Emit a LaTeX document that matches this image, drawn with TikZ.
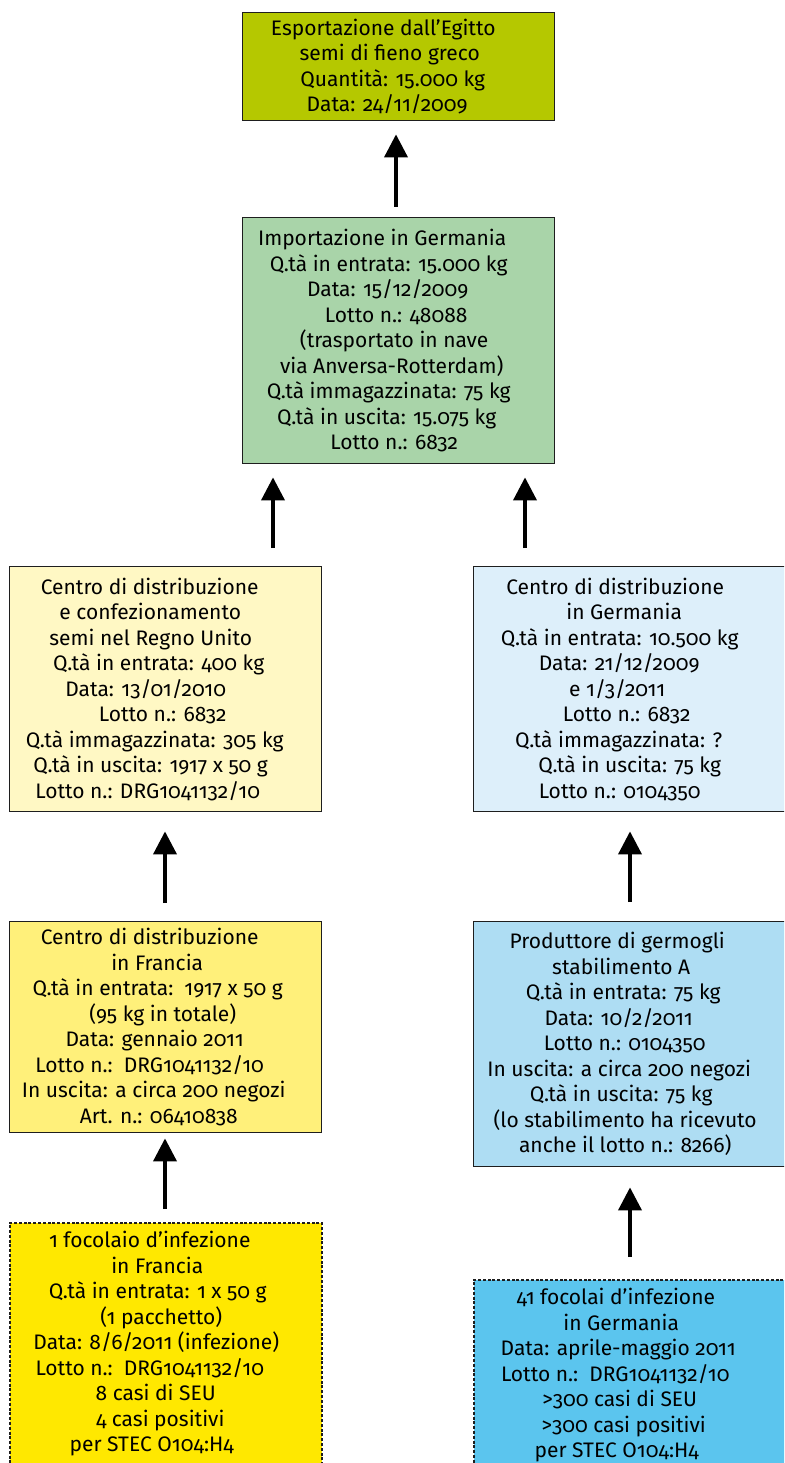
\documentclass[tikz,border=0pt]{standalone}
\usepackage{fontspec}
\setmainfont{Fira Sans}[Numbers=OldStyle]
\usetikzlibrary{arrows.meta}
\definecolor{cEgy}{RGB}{181,200,0}
\definecolor{cImp}{RGB}{169,212,169}
\definecolor{cUK}{RGB}{255,248,196}
\definecolor{cDEd}{RGB}{221,239,250}
\definecolor{cFR}{RGB}{255,240,122}
\definecolor{cProd}{RGB}{174,221,243}
\definecolor{cOutFR}{RGB}{255,232,0}
\definecolor{cOutDE}{RGB}{91,197,238}
\definecolor{cEdge}{RGB}{30,30,30}
\newcommand\Sh[1]{\hspace*{#1pt}\mbox{}}
\tikzset{
  boxbase/.style={anchor=north west, minimum width=312pt, inner sep=0pt, align=center,
    font=\fontsize{21}{25.5}\selectfont},
  solidbox/.style={boxbase, draw=cEdge, line width=1.4pt},
  dashbox/.style={boxbase, draw=cEdge, line width=1.5pt, dash pattern=on 3pt off 1.8pt},
  txt/.style={inner sep=0pt, align=center, font=\fontsize{21}{25.5}\selectfont},
  arr/.style={line width=3.8pt, -{Triangle[width=23pt,length=23pt]}},
}
\begin{document}
\begin{tikzpicture}[x=1pt,y=-1pt]
\useasboundingbox (0,0) rectangle (784,1463);
\clip (0,0) rectangle (784,1463);
\fill[white] (0,0) rectangle (784,1463);

% row 1
\node[solidbox, fill=cEgy, minimum height=108pt] (egy) at (242,12)
 {Esportazione dall’Egitto\Sh{31}\\
  semi di fieno greco\Sh{18}\\
  Quantità: 15.000 kg\Sh{12}\\
  Data: 24/11/2009\Sh{23}};

% row 2
\node[solidbox, fill=cImp, minimum height=246pt] (imp) at (242,217)
 {Importazione in Germania\Sh{33}\\
  Q.tà in entrata: 15.000 kg\Sh{20}\\
  Data: 15/12/2009\Sh{22}\\
  Lotto n.: 48088\Sh{5}\\
  (trasportato in nave\Sh{9}\\
  via Anversa-Rotterdam)\Sh{14}\\
  Q.tà immagazzinata: 75 kg\Sh{20}\\
  Q.tà in uscita: 15.075 kg\Sh{24}\\
  Lotto n.: 6832\Sh{9}};

% row 3
\node[solidbox, fill=cUK, minimum height=245pt] (uk) at (9,566)
 {Centro di distribuzione\Sh{32}\\
  e confezionamento\Sh{31}\\
  semi nel Regno Unito\Sh{30}\\
  Q.tà in entrata: 400 kg\Sh{14}\\
  Data: 13/01/2010\Sh{40}\\
  Lotto n.: 6832\Sh{6}\\
  Q.tà immagazzinata: 305 kg\Sh{22}\\
  Q.tà in uscita: 1917 x 50 g\Sh{30}\\
  Lotto n.: DRG1041132/10\Sh{36}};

\node[solidbox, fill=cDEd, minimum height=245pt] (ded) at (473,566)
 {Centro di distribuzione\Sh{29}\\
  in Germania\Sh{11}\\
  Q.tà in entrata: 10.500 kg\Sh{20}\\
  Data: 21/12/2009\Sh{21}\\
  e 1/3/2011\Sh{25}\\
  Lotto n.: 6832\Sh{6}\\
  Q.tà immagazzinata: ?\Sh{22}\\
  Q.tà in uscita: 75 kg\Sh{0}\\
  Lotto n.: 0104350\Sh{20}};

% row 4
\node[solidbox, fill=cFR, minimum height=211pt] (fr) at (9,921)
 {Centro di distribuzione\Sh{32}\\
  in Francia\Sh{17}\\
  Q.tà in entrata:\ \ 1917 x 50 g\Sh{16}\\
  (95 kg in totale)\Sh{6}\\
  Data: gennaio 2011\Sh{22}\\
  Lotto n.:\ \ DRG1041132/10\Sh{32}\\
  In uscita: a circa 200 negozi\Sh{24}\\
  Art. n.: 06410838\Sh{14}};

\node[solidbox, fill=cProd, minimum height=245pt] (prod) at (473,921)
 {Produttore di germogli\Sh{25}\\
  stabilimento A\Sh{17}\\
  Q.tà in entrata: 75 kg\Sh{13}\\
  Data: 10/2/2011\Sh{22}\\
  Lotto n.: 0104350\Sh{10}\\
  In uscita: a circa 200 negozi\Sh{21}\\
  Q.tà in uscita: 75 kg\Sh{17}\\
  (lo stabilimento ha ricevuto\Sh{9}\\
  anche il lotto n.: 8266)\Sh{9}};

% row 5 (cut off at the bottom)
\node[dashbox, fill=cOutFR, minimum height=300pt] (outfr) at (9,1222) {};
\node[txt, anchor=north] (outfrt) at ([yshift=-9pt]outfr.north)
 {1 focolaio d’infezione\Sh{32}\\
  in Francia\Sh{17}\\
  Q.tà in entrata: 1 x 50 g\Sh{16}\\
  (1 pacchetto)\Sh{9}\\
  Data: 8/6/2011 (infezione)\Sh{19}\\
  Lotto n.:\ \ DRG1041132/10\Sh{32}\\
  8 casi di SEU\Sh{20}\\
  4 casi positivi\Sh{11}\\
  per STEC O104:H4\Sh{28}};

\node[dashbox, fill=cOutDE, minimum height=300pt] (outde) at (473,1279) {};
\node[txt, anchor=north] (outdet) at ([yshift=-9pt]outde.north)
 {41 focolai d’infezione\Sh{28}\\
  in Germania\Sh{17}\\
  Data: aprile-maggio 2011\Sh{23}\\
  Lotto n.:\ \ DRG1041132/10\Sh{29}\\
  >300 casi di SEU\Sh{20}\\
  >300 casi positivi\Sh{12}\\
  per STEC O104:H4\Sh{26}};

% arrow columns
\coordinate (cA) at (396,0);
\coordinate (cB) at (273,0);
\coordinate (cC) at (525,0);
\coordinate (cL) at (165,0);
\coordinate (cR) at (630,0);

\draw[arr, shorten <=10pt, shorten >=13pt] (imp.north -| cA) -- (egy.south -| cA);
\draw[arr, shorten <=18pt, shorten >=13pt] (uk.north -| cB) -- (imp.south -| cB);
\draw[arr, shorten <=18pt, shorten >=13pt] (ded.north -| cC) -- (imp.south -| cC);
\draw[arr, shorten <=18pt, shorten >=19pt] (fr.north -| cL) -- (uk.south -| cL);
\draw[arr, shorten <=19pt, shorten >=19pt] (prod.north -| cR) -- (ded.south -| cR);
\draw[arr, shorten <=13pt, shorten >=5pt] (outfr.north -| cL) -- (fr.south -| cL);
\draw[arr, shorten <=22pt, shorten >=20pt] (outde.north -| cR) -- (prod.south -| cR);
\end{tikzpicture}
\end{document}
